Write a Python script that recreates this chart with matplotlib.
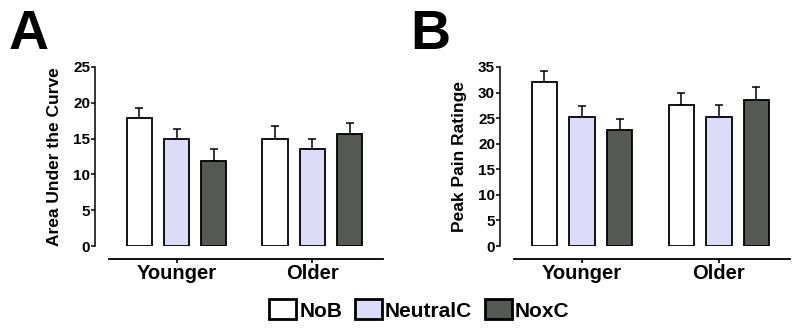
import matplotlib
matplotlib.use('Agg')
import numpy as np
from matplotlib import pyplot as plt
from matplotlib.patches import Patch

plt.rcParams['font.family'] = ['Liberation Sans', 'DejaVu Sans']
plt.rcParams['font.weight'] = 'bold'

groups = ['Younger', 'Older']
conditions = ['NoB', 'NeutralC', 'NoxC']
colors = ['#ffffff', '#dcdcf8', '#565953']

# panel A : area under the curve
auc_mean = [[17.9, 15.0], [15.0, 13.5], [11.9, 15.7]]
auc_err = [[1.4, 1.7], [1.4, 1.4], [1.6, 1.5]]

# panel B : peak pain rating
peak_mean = [[32.0, 27.6], [25.2, 25.2], [22.6, 28.6]]
peak_err = [[2.3, 2.3], [2.1, 2.3], [2.2, 2.4]]

fig = plt.figure(figsize=(8, 3.3), dpi=100)


def panel(ax, means, errs, ylabel, ymax, ystep):
    x = np.arange(len(groups))
    step = 0.275
    for i in range(len(conditions)):
        ax.bar(x + (i - 1) * step, means[i], width=0.185, color=colors[i],
               edgecolor='black', linewidth=1.3, zorder=2)
        ax.errorbar(x + (i - 1) * step, means[i], yerr=[np.zeros(2), errs[i]],
                    fmt='none', ecolor='black', elinewidth=1.1, capsize=3,
                    capthick=1.1, zorder=1)
    ax.set_ylim(0, ymax)
    ax.set_xlim(-0.6, 1.52)
    ax.set_yticks(np.arange(0, ymax + 1, ystep))
    ax.set_xticks(x)
    ax.set_xticklabels(groups)
    ax.tick_params(axis='y', labelsize=11, width=1.1, length=3, pad=0.5)
    ax.tick_params(axis='x', labelsize=14.5, width=1.2, length=3, pad=0.5)
    for t in ax.get_yticklabels() + ax.get_xticklabels():
        t.set_fontweight('bold')
    ax.spines['top'].set_visible(False)
    ax.spines['right'].set_visible(False)
    ax.spines['left'].set_linewidth(1.1)
    ax.spines['bottom'].set_linewidth(1.3)
    ax.spines['bottom'].set_position(('outward', 9.5))
    ax.spines['bottom'].set_bounds(-0.5, 1.52)
    ax.set_ylabel(ylabel, fontsize=12.5, fontweight='bold', labelpad=8)


axA = fig.add_axes([95 / 800, 84 / 330, 288 / 800, 179 / 330])
panel(axA, auc_mean, auc_err, 'Area Under the Curve', 25, 5)
axB = fig.add_axes([500 / 800, 84 / 330, 290 / 800, 179 / 330])
panel(axB, peak_mean, peak_err, 'Peak Pain Ratinge', 35, 5)

fig.text(9 / 800, 1 - 49 / 330, 'A', fontsize=40, fontweight='bold')
fig.text(410 / 800, 1 - 49 / 330, 'B', fontsize=40, fontweight='bold')

handles = [Patch(facecolor=c, edgecolor='black', linewidth=2) for c in colors]
fig.legend(handles, conditions, loc='center', bbox_to_anchor=(0.524, 1 - 310 / 330),
           ncol=3, frameon=False, prop={'size': 15, 'weight': 'bold'},
           handlelength=1.3, handleheight=1.1, handletextpad=0.15, columnspacing=0.6)

plt.savefig('out.png', dpi=100)
